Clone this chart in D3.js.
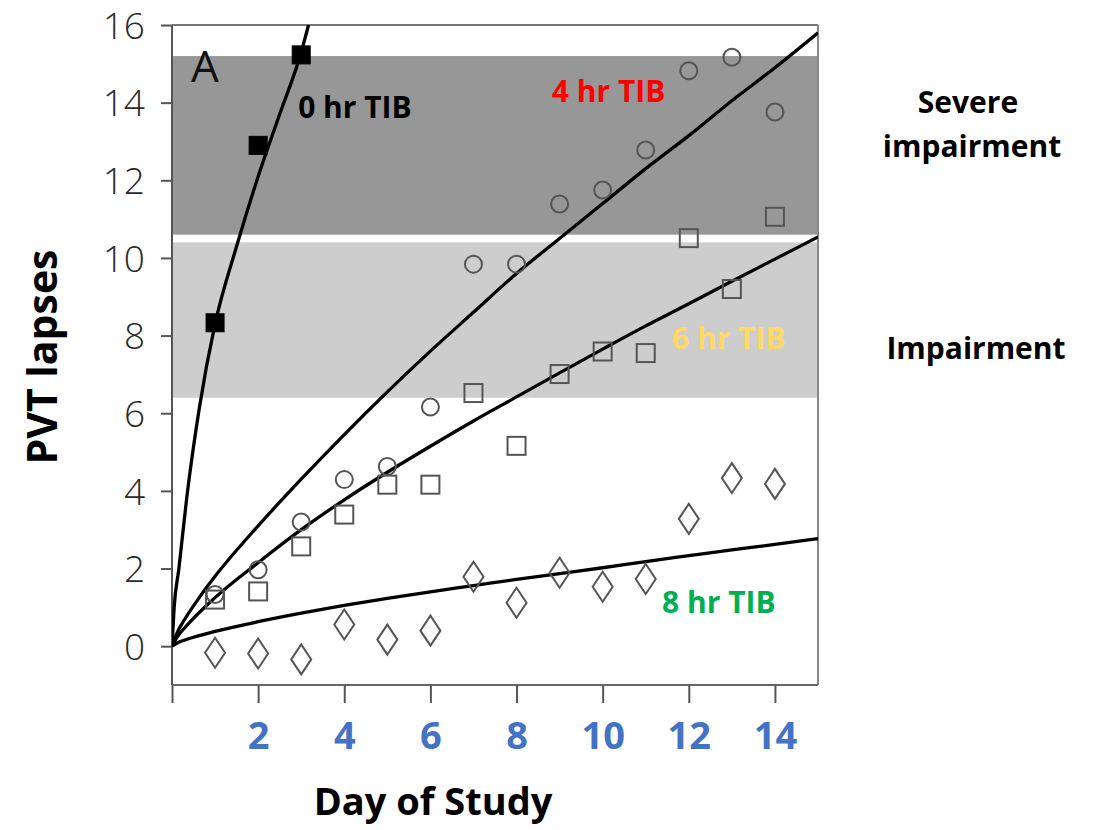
<!DOCTYPE html>
<html><head><meta charset="utf-8">
<script src="https://cdn.jsdelivr.net/npm/d3@7"></script>
<style>
html,body{margin:0;padding:0;background:#fff;}
svg{display:block;}
</style></head>
<body>
<svg id="chart" width="1096" height="830"></svg>
<script>
// ---- data ----
const days = [1,2,3,4,5,6,7,8,9,10,11,12,13,14];
const tib0Days = [1,2,3];
const tib0Values = [8.33, 12.9, 15.23];
const tib4Values = [1.33, 1.97, 3.2, 4.29, 4.63, 6.16, 9.84, 9.84, 11.39, 11.75, 12.78, 14.82, 15.17, 13.76];
const tib6Values = [1.2, 1.41, 2.57, 3.39, 4.16, 4.16, 6.52, 5.16, 7.01, 7.59, 7.55, 10.51, 9.2, 11.06];
const tib8Values = [-0.17, -0.19, -0.34, 0.56, 0.17, 0.4, 1.79, 1.12, 1.89, 1.53, 1.73, 3.28, 4.33, 4.18];

// fitted curves (day, lapses)
const fit0 = [[0,0],[0.05,1.0],[0.16,2],[0.34,3.8],[0.63,6.1],[1,8.3],[1.5,10.3],[2,12.1],[2.5,13.7],[3,15.3],[3.17,16]];
const fit4 = [[0,0],[0.1,0.3],[0.3,0.7],[0.6,1.2],[1,1.8],[2,3.1],[3,4.3],[4,5.45],[5,6.55],[6,7.6],[7,8.6],[8,9.6],[9,10.5],[10,11.4],[11,12.3],[12,13.15],[13,14.05],[14,14.9],[15,15.8]];
const fit6 = [[0,0],[0.1,0.2],[0.4,0.6],[1,1.25],[2,2.15],[3,3.0],[4,3.77],[5,4.48],[6,5.15],[7,5.8],[8,6.42],[9,7.04],[10,7.65],[11,8.25],[12,8.82],[13,9.4],[14,9.97],[15,10.54]];
const fit8 = [[0,0],[0.1,0.07],[0.3,0.16],[0.5,0.23],[1,0.38],[2,0.63],[3,0.85],[4,1.05],[5,1.23],[6,1.4],[7,1.56],[8,1.72],[9,1.87],[10,2.02],[11,2.18],[12,2.33],[13,2.48],[14,2.62],[15,2.77]];

const bandSevere = [10.6, 15.2];
const bandImpair = [6.4, 10.4];

const xTicks = [0,2,4,6,8,10,12,14];
const xTickLabels = ["","2","4","6","8","10","12","14"];
const yTicks = [0,2,4,6,8,10,12,14,16];

const seriesLabels = [
  {text:"0 hr TIB", day:2.93, val:13.6, color:"#000000"},
  {text:"4 hr TIB", day:8.82, val:14.02, color:"#FF0000"},
  {text:"6 hr TIB", day:11.61, val:7.65, color:"#FFD966"},
  {text:"8 hr TIB", day:11.38, val:0.85, color:"#00B050"}
];

// ---- drawing ----
const svg = d3.select("#chart");
const x = d3.scaleLinear().domain([0,15]).range([172,818]);
const y = d3.scaleLinear().domain([-1,16]).range([685,25]);

svg.append("defs").append("clipPath").attr("id","plotclip")
  .append("rect").attr("x",x(0)).attr("y",y(16)).attr("width",x(15)-x(0)).attr("height",y(-1)-y(16));

// bands
svg.append("rect").attr("x",x(0)).attr("width",x(15)-x(0))
  .attr("y",y(bandSevere[1])).attr("height",y(bandSevere[0])-y(bandSevere[1]))
  .attr("fill","#979797");
svg.append("rect").attr("x",x(0)).attr("width",x(15)-x(0))
  .attr("y",y(bandImpair[1])).attr("height",y(bandImpair[0])-y(bandImpair[1]))
  .attr("fill","#cdcdcd");

// frame top/right
svg.append("line").attr("x1",x(0)).attr("x2",x(15)).attr("y1",y(16)).attr("y2",y(16))
  .attr("stroke","#777").attr("stroke-width",2);
svg.append("line").attr("x1",x(15)).attr("x2",x(15)).attr("y1",y(16)).attr("y2",y(-1))
  .attr("stroke","#888").attr("stroke-width",2);

// axes
const yAxis = d3.axisLeft(y).tickValues(yTicks).tickSize(11).tickPadding(16).tickFormat(d3.format("d"));
const gy = svg.append("g").attr("transform",`translate(${x(0)},0)`).call(yAxis);
gy.select(".domain").attr("d",`M0,${y(16)}V${y(-1)}`).attr("stroke","#555").attr("stroke-width",2);
gy.selectAll(".tick line").attr("stroke","#555").attr("stroke-width",2);
gy.selectAll(".tick text").attr("font-family","'Open Sans', sans-serif").attr("font-weight",300)
  .attr("font-size",37).attr("fill","#2a2a2a").attr("dy","0.36em");

const xAxis = d3.axisBottom(x).tickValues(xTicks).tickSize(18).tickPadding(14)
  .tickFormat((d,i)=>xTickLabels[i]);
const gx = svg.append("g").attr("transform",`translate(0,${y(-1)})`).call(xAxis);
gx.select(".domain").attr("d",`M${x(0)},0H${x(15)}`).attr("stroke","#666").attr("stroke-width",2);
gx.selectAll(".tick line").attr("stroke","#555").attr("stroke-width",2);
gx.selectAll(".tick text").attr("font-family","'Open Sans', sans-serif").attr("font-weight",700)
  .attr("font-size",38).attr("fill","#4472C4").attr("dy","0.85em");

// panel letter
svg.append("text").attr("x",191).attr("y",82).text("A")
  .attr("font-family","'Open Sans', sans-serif").attr("font-weight",400).attr("font-size",44).attr("fill","#111");

// curves
const plot = svg.append("g").attr("clip-path","url(#plotclip)");
const line = d3.line().x(d=>x(d[0])).y(d=>y(d[1])).curve(d3.curveMonotoneX);
[fit0, fit4, fit6, fit8].forEach(f=>{
  plot.append("path").attr("d",line(f)).attr("fill","none").attr("stroke","#000").attr("stroke-width",3.3);
});

// markers
const mk = svg.append("g");
const mColor = "#555";
mk.selectAll("circle.c4").data(days.map((d,i)=>[d,tib4Values[i]])).join("circle")
  .attr("cx",d=>x(d[0])).attr("cy",d=>y(d[1])).attr("r",8.5)
  .attr("fill","none").attr("stroke",mColor).attr("stroke-width",2);
mk.selectAll("rect.s6").data(days.map((d,i)=>[d,tib6Values[i]])).join("rect")
  .attr("x",d=>x(d[0])-9).attr("y",d=>y(d[1])-9).attr("width",18).attr("height",18)
  .attr("fill","none").attr("stroke",mColor).attr("stroke-width",2);
mk.selectAll("path.d8").data(days.map((d,i)=>[d,tib8Values[i]])).join("path")
  .attr("d",d=>{const cx=x(d[0]), cy=y(d[1]); return `M${cx},${cy-15}L${cx+10},${cy}L${cx},${cy+15}L${cx-10},${cy}Z`;})
  .attr("fill","none").attr("stroke",mColor).attr("stroke-width",2);
mk.selectAll("rect.s0").data(tib0Days.map((d,i)=>[d,tib0Values[i]])).join("rect")
  .attr("x",d=>x(d[0])-9).attr("y",d=>y(d[1])-9).attr("width",18).attr("height",18)
  .attr("fill","#000").attr("stroke","#000").attr("stroke-width",1);

// series labels
seriesLabels.forEach(l=>{
  svg.append("text").attr("x",x(l.day)).attr("y",y(l.val)).text(l.text)
    .attr("font-family","'Open Sans', sans-serif").attr("font-weight",700).attr("font-size",30)
    .attr("fill",l.color);
});

// zone labels
const zfont = "'Open Sans', sans-serif";
svg.append("text").attr("x",968).attr("y",113).attr("text-anchor","middle").text("Severe")
  .attr("font-family",zfont).attr("font-weight",700).attr("font-size",30).attr("fill","#000");
svg.append("text").attr("x",972).attr("y",157).attr("text-anchor","middle").text("impairment")
  .attr("font-family",zfont).attr("font-weight",700).attr("font-size",30).attr("fill","#000");
svg.append("text").attr("x",976).attr("y",359).attr("text-anchor","middle").text("Impairment")
  .attr("font-family",zfont).attr("font-weight",700).attr("font-size",30).attr("fill","#000");

// axis titles
svg.append("text").attr("transform","translate(57,357) rotate(-90)").attr("text-anchor","middle")
  .text("PVT lapses").attr("font-family",zfont).attr("font-weight",700).attr("font-size",41).attr("fill","#000");
svg.append("text").attr("x",433).attr("y",815).attr("text-anchor","middle")
  .text("Day of Study").attr("font-family",zfont).attr("font-weight",700).attr("font-size",38).attr("fill","#000");
</script>
</body></html>
